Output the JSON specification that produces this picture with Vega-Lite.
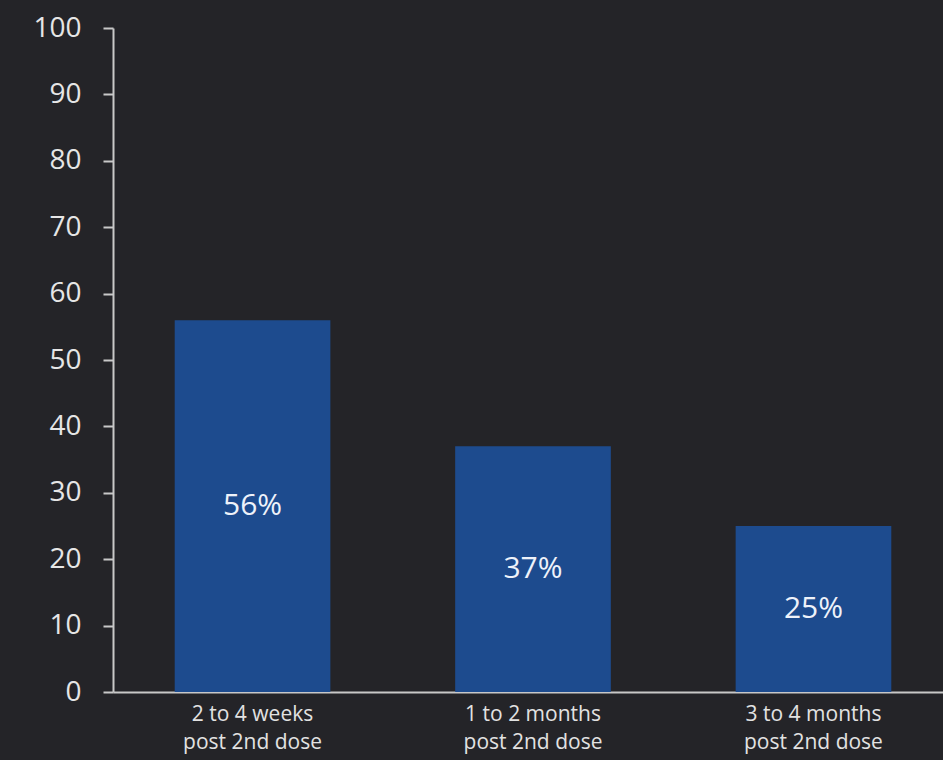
{
  "$schema": "https://vega.github.io/schema/vega-lite/v6.json",
  "autosize": {"type": "none"},
  "padding": {"left": 113, "top": 28, "right": 0, "bottom": 68},
  "width": 840,
  "height": 664,
  "background": "#242428",
  "config": {"view": {"stroke": null}, "font": "Open Sans"},
  "data": {"values": [
    {"period": "2 to 4 weeks post 2nd dose", "value": 56, "label": "56%"},
    {"period": "1 to 2 months post 2nd dose", "value": 37, "label": "37%"},
    {"period": "3 to 4 months post 2nd dose", "value": 25, "label": "25%"}
  ]},
  "encoding": {
    "x": {
      "field": "period", "type": "nominal", "sort": null,
      "scale": {"paddingInner": 0.445, "paddingOuter": 0.22},
      "axis": {
        "title": null, "labelAngle": 0, "labelFontSize": 21, "labelColor": "#e2e2e2",
        "labelFont": "Open Sans", "labelLineHeight": 28, "labelPadding": 11,
        "ticks": false, "domainColor": "#c8c8c8", "domainWidth": 2,
        "labelExpr": "[replace(datum.label, ' post 2nd dose', ''), 'post 2nd dose']"
      }
    }
  },
  "layer": [
    {
      "mark": {"type": "bar", "color": "#1d4b8e"},
      "encoding": {
        "y": {
          "field": "value", "type": "quantitative",
          "scale": {"domain": [0, 100]},
          "axis": {
            "title": null, "values": [0,10,20,30,40,50,60,70,80,90,100], "grid": false,
            "labelFontSize": 28, "labelColor": "#e6e6e6", "labelFont": "Open Sans",
            "tickSize": 10, "tickColor": "#c8c8c8", "tickWidth": 2, "labelPadding": 22,
            "domainColor": "#c8c8c8", "domainWidth": 2
          }
        }
      }
    },
    {
      "mark": {"type": "text", "color": "#eef2fa", "fontSize": 30, "font": "Open Sans", "baseline": "middle"},
      "encoding": {
        "y": {"field": "value", "type": "quantitative", "scale": {"domain": [0, 200]}, "axis": null},
        "text": {"field": "label"}
      }
    }
  ],
  "resolve": {"scale": {"y": "independent"}}
}
